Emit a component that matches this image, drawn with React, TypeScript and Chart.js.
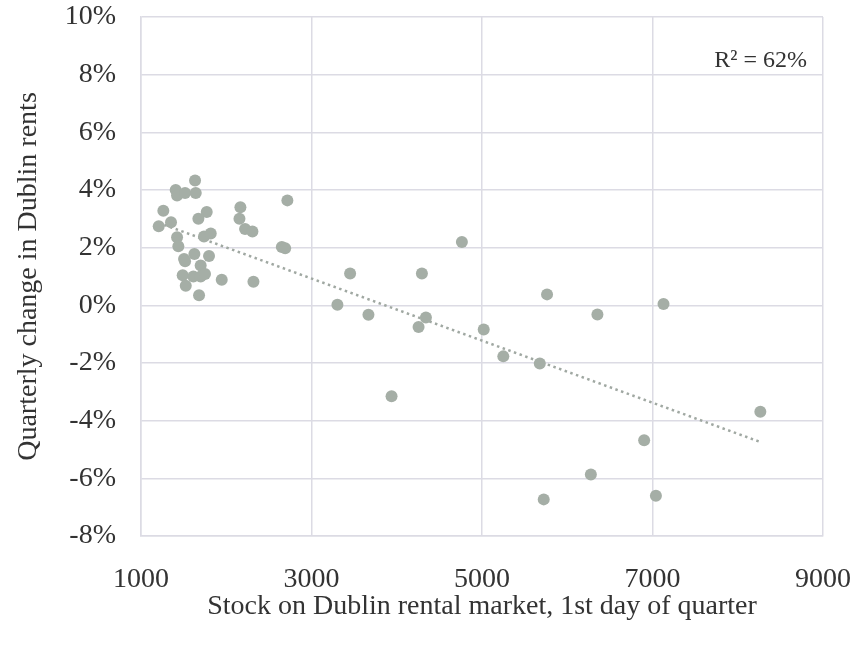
import React, { useEffect, useRef } from "react";
import { Chart, registerables } from "chart.js";

Chart.register(...registerables);

// Stock on Dublin rental market (1st day of quarter)
const stockX = [
  1634, 1407, 1423, 1517, 1642, 1262, 1771, 1673, 1208, 1352,
  1423, 1438, 1739, 1818, 2166, 2155, 2221, 2307, 2717, 2652,
  2691, 1626, 1798, 1505, 1517, 1700, 1489, 1614, 1700, 1751,
  1525, 1947, 2319, 1681, 3453, 4295, 4764, 3304, 3668, 4342,
  4256, 3939, 5763, 6354, 7129, 5020, 5250, 5678, 8265, 6902,
  6277, 5724, 7040,
];
// Quarterly change in Dublin rents (%)
const rentChange = [
  4.33, 4.0, 3.81, 3.9, 3.9, 3.28, 3.24, 3.0, 2.74, 2.88,
  2.36, 2.05, 2.39, 2.49, 3.4, 3.0, 2.65, 2.56, 3.64, 2.02,
  1.98, 1.78, 1.71, 1.61, 1.53, 1.38, 1.04, 1.0, 1.0, 1.09,
  0.68, 0.89, 0.82, 0.35, 1.1, 1.1, 2.2, 0.02, -0.33, -0.42,
  -0.75, -3.15, 0.38, -0.32, 0.05, -0.84, -1.77, -2.02, -3.69, -4.68,
  -5.87, -6.73, -6.6,
];
// Linear trendline end points
const trendX = [1208, 8265];
const trendY = [2.86, -4.74];

const xMin = 1000;
const xMax = 9000;
const xStep = 2000;
const yMin = -8;
const yMax = 10;
const yStep = 2;

const rSquaredLabel = "R\u00B2 = 62%";
const xTitle = "Stock on Dublin rental market, 1st day of quarter";
const yTitle = "Quarterly change in Dublin rents";

const FONT = '"Liberation Serif", "Times New Roman", serif';
const TEXT = "#333333";
const GRID = "#dcdbe4";
const POINT = "#a5aea6";

export default function App() {
  const ref = useRef<HTMLCanvasElement | null>(null);

  useEffect(() => {
    if (!ref.current) return;
    const points = stockX.map((x, i) => ({ x, y: rentChange[i] }));
    const trend = trendX.map((x, i) => ({ x, y: trendY[i] }));

    const r2Plugin = {
      id: "r2label",
      afterDatasetsDraw(chart: any) {
        const { ctx, chartArea } = chart;
        ctx.save();
        ctx.font = `24px ${FONT}`;
        ctx.fillStyle = TEXT;
        ctx.textAlign = "right";
        ctx.textBaseline = "alphabetic";
        ctx.fillText(rSquaredLabel, chartArea.right - 16, chartArea.top + 50);
        ctx.restore();
      },
    };

    const chart = new Chart(ref.current, {
      type: "scatter",
      data: {
        datasets: [
          {
            label: "Rents",
            data: points,
            backgroundColor: POINT,
            borderWidth: 0,
            pointRadius: 6,
            pointHoverRadius: 6,
            order: 1,
          },
          {
            label: "Trend",
            type: "line",
            data: trend,
            borderColor: "#a0a8a2",
            borderWidth: 2.5,
            borderDash: [2.5, 3.5],
            pointRadius: 0,
            fill: false,
            order: 2,
          } as any,
        ],
      },
      options: {
        responsive: false,
        animation: false,
        plugins: {
          legend: { display: false },
          tooltip: { enabled: false },
        },
        layout: { padding: { top: 17, right: 45, bottom: 0, left: 0 } },
        scales: {
          x: {
            type: "linear",
            min: xMin,
            max: xMax,
            ticks: {
              stepSize: xStep,
              padding: 27,
              color: TEXT,
              font: { family: FONT, size: 28 },
              callback: (v: any) => String(v),
            },
            grid: { color: GRID, lineWidth: 1.5, drawTicks: false },
            border: { color: GRID, width: 1.5 },
            title: {
              display: true,
              text: xTitle,
              color: TEXT,
              font: { family: FONT, size: 28 },
              padding: { top: 0, bottom: 25 },
            },
            afterFit: (s: any) => {
              s.height = 112;
              s.paddingLeft = 0;
              s.paddingRight = 0;
            },
          },
          y: {
            type: "linear",
            min: yMin,
            max: yMax,
            ticks: {
              stepSize: yStep,
              padding: 25,
              color: TEXT,
              font: { family: FONT, size: 28 },
              callback: (v: any) => `${v}%`,
            },
            grid: { color: GRID, lineWidth: 1.5, drawTicks: false },
            border: { color: GRID, width: 1.5 },
            title: {
              display: true,
              text: yTitle,
              color: TEXT,
              font: { family: FONT, size: 28 },
              padding: { top: 11.5, bottom: 0 },
            },
            afterFit: (s: any) => {
              s.width = 141;
              s.paddingTop = 0;
              s.paddingBottom = 0;
            },
          },
        },
      },
      plugins: [r2Plugin],
    });

    return () => chart.destroy();
  }, []);

  return (
    <div style={{ position: "fixed", left: 0, top: 0, width: 868, height: 648, background: "#ffffff" }}>
      <canvas ref={ref} width={868} height={648} style={{ display: "block" }} />
    </div>
  );
}
